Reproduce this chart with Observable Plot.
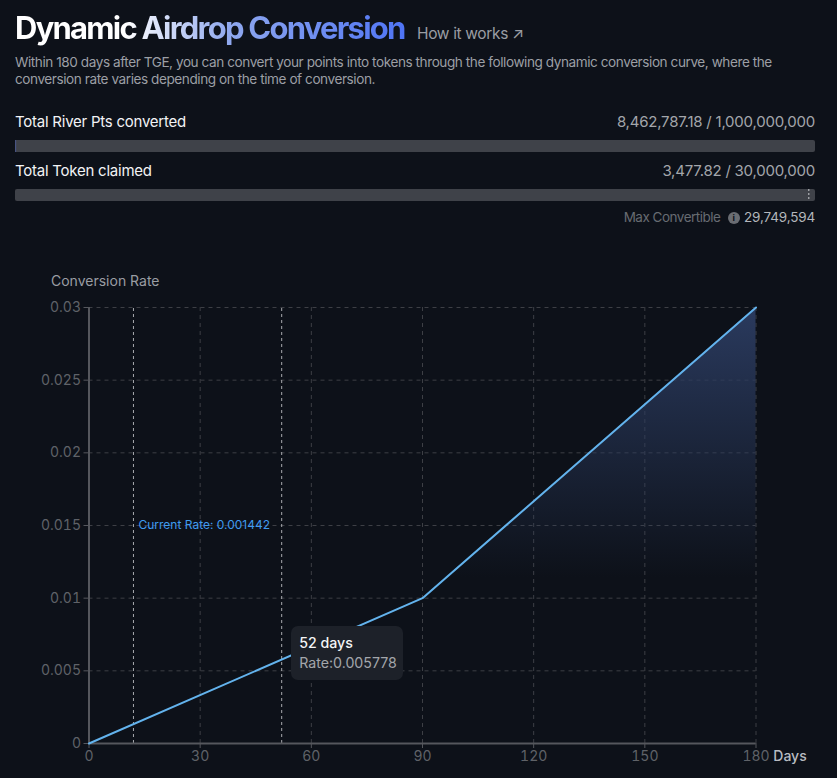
<!DOCTYPE html>
<html>
<head>
<meta charset="utf-8">
<script src="https://cdn.jsdelivr.net/npm/d3@7"></script>
<script src="https://cdn.jsdelivr.net/npm/@observablehq/plot@0.6"></script>
<style>
  html, body { margin: 0; background: #0d1119; }
  body { width: 837px; height: 778px; position: relative; overflow: hidden; font-family: Inter, sans-serif; }
  .abs { position: absolute; white-space: nowrap; }
  .right { right: 22px; }
  h1 { margin: 0; left: 15px; top: 8px; font-size: 31px; line-height: 40px; font-weight: 700; letter-spacing: -1.76px;
       background: linear-gradient(90deg, #fff 0%, #fff 28%, #8fa8ee 55%, #4f74f5 100%);
       -webkit-background-clip: text; background-clip: text; color: transparent; }
  .how { left: 417px; top: 24px; font-size: 15.5px; color: #9a9da3; letter-spacing: -.35px; }
  .desc { left: 15px; top: 54px; width: 790px; white-space: normal; font-size: 13.6px; line-height: 16.5px; color: #9c9fa5; letter-spacing: -.44px; }
  .lab { left: 15px; font-size: 15px; color: #f2f3f5; letter-spacing: -.24px; }
  .val { font-size: 15px; color: #a3a6ab; letter-spacing: -.22px; }
  .bar { left: 0; }
  .max { top: 209px; font-size: 13.5px; color: #676b72; letter-spacing: -.5px; }
  .max b { font-weight: 400; color: #b4b7bc; margin-left: 1px; letter-spacing: -.16px; }
  .info { display: inline-block; width: 12px; height: 12px; border-radius: 50%; background: #6a6d73; color: #0d1119;
          font-size: 9px; font-weight: 700; line-height: 12px; text-align: center; vertical-align: 1px; margin-left: 4px; letter-spacing: 0; }
  #chart { left: 0; top: 250px; }
  #tip { background: #1d2129; border-radius: 7px; padding: 7px 7px 6px 8px; width: 97px; height: 41px; font-size: 14.2px; line-height: 20px; }
  #tip .d { color: #f4f5f7; font-weight: 500; }
  #tip .r { color: #a3a6ab; }
</style>
</head>
<body>
<h1 class="abs">Dynamic Airdrop Conversion</h1>
<div class="abs how">How it works ↗</div>
<div class="abs desc">Within 180 days after TGE, you can convert your points into tokens through the following dynamic conversion curve, where the conversion rate varies depending on the time of conversion.</div>
<div class="abs lab" style="top:112px">Total River Pts converted</div>
<div class="abs val right" style="top:112px">8,462,787.18 / 1,000,000,000</div>
<div class="abs bar" id="bar1" style="top:140px"></div>
<div class="abs lab" style="top:161px">Total Token claimed</div>
<div class="abs val right" style="top:161px">3,477.82 / 30,000,000</div>
<div class="abs bar" id="bar2" style="top:189px"></div>
<div class="abs max right">Max Convertible <span class="info">i</span> <b>29,749,594</b></div>
<div class="abs" id="chart"></div>

<script>
// curve
const days = [0, 90, 180]
const rates = [0, 0.01, 0.03]
const xTicks = [0, 30, 60, 90, 120, 150, 180]
const yTicks = [0, 0.005, 0.01, 0.015, 0.02, 0.025, 0.03]

// markers
const currentDay = 12
const currentRate = 0.001442
const hoverDay = 52
const hoverRate = 0.005778

// totals
const pointsConverted = 8462787.18
const pointsTotal = 1000000000
const tokensClaimed = 3477.82
const tokensTotal = 30000000
const maxConvertible = 29749594

const curve = days.map((d, i) => ({day: d, rate: rates[i]}))

// the filled part fades out into the track right after its first pixel
function barDefs() {
  const d = d3.create("svg:defs")
  const g = d.append("linearGradient").attr("id", "barFill")
  g.append("stop").attr("offset", "0%").attr("stop-color", "#4a5a9a")
  g.append("stop").attr("offset", "25%").attr("stop-color", "#3f4249")
  return d.node()
}

function progress(value, total, marker) {
  return Plot.plot({
    width: 837, height: 12,
    marginLeft: 15, marginRight: 22, marginTop: 0, marginBottom: 0,
    style: {background: "transparent", display: "block"},
    x: {domain: [0, total], axis: null},
    marks: [
      barDefs,
      Plot.barX([total], {x1: 0, x2: d => d, fill: "#3f4249", rx: 2}),
      Plot.barX([value], {x1: 0, x2: d => d, fill: "url(#barFill)"}),
      marker ? Plot.ruleX([marker], {stroke: "#c9cbce", strokeDasharray: "2,2"}) : null
    ]
  })
}
document.getElementById("bar1").append(progress(pointsConverted, pointsTotal))
document.getElementById("bar2").append(progress(tokensClaimed, tokensTotal, maxConvertible))

// gradient below the curve
function defs() {
  const d = d3.create("svg:defs")
  const g = d.append("linearGradient").attr("id", "rateFill").attr("x1", 0).attr("x2", 0).attr("y1", 0).attr("y2", 1)
  g.append("stop").attr("offset", "0%").attr("stop-color", "#2a3a5e")
  g.append("stop").attr("offset", "62%").attr("stop-color", "#2a3a5e").attr("stop-opacity", 0)
  return d.node()
}

const grid = {stroke: "#3d3f45", strokeDasharray: "4,4", strokeOpacity: 1}

const chart = Plot.plot({
  width: 837,
  height: 528,
  marginLeft: 88.5,
  marginRight: 81.5,
  marginTop: 57,
  marginBottom: 35,
  style: {background: "transparent", fontFamily: "Inter, sans-serif", fontSize: "14px", display: "block"},
  x: {domain: [0, 180]},
  y: {domain: [0, 0.03]},
  marks: [
    defs,
    Plot.ruleX(xTicks, {...grid, y1: 0, y2: 0.03}),
    Plot.ruleY(yTicks, {...grid, x1: 0, x2: 180}),
    Plot.areaY(curve, {x: "day", y: "rate", fill: "url(#rateFill)"}),
    Plot.ruleX([currentDay, hoverDay], {y1: 0, y2: 0.03, stroke: "#a9abaf", strokeDasharray: "3,3"}),
    Plot.ruleX([0], {stroke: "#55575d", strokeWidth: 2}),
    Plot.ruleY([0], {stroke: "#55575d", strokeWidth: 2}),
    Plot.axisX({ticks: xTicks, tickSize: 5, tickPadding: 3, label: null, stroke: "#55575d", fill: "#5f6268", tickFormat: d => String(d)}),
    Plot.axisY({ticks: yTicks, tickSize: 5, tickPadding: 3, label: null, stroke: "#55575d", fill: "#5f6268", tickFormat: d => String(d)}),
    Plot.line(curve, {x: "day", y: "rate", stroke: "#63b3ed", strokeWidth: 2}),
    Plot.text([`Current Rate: ${currentRate}`], {x: currentDay, y: 0.015, dx: 5, textAnchor: "start", fill: "#3f9bf0", fontSize: 12}),
    Plot.text(["Conversion Rate"], {x: 0, y: 0.03, dx: -38, dy: -26, textAnchor: "start", fill: "#9a9da3", fontSize: 14}),
    Plot.text(["Days"], {x: 180, y: 0, dx: 34, dy: 13, fill: "#b9bcc2", fontSize: 14, fontWeight: 500})
  ]
})
document.getElementById("chart").append(chart)

// hover box, placed from the chart's scales
const tip = document.createElement("div")
tip.id = "tip"
tip.className = "abs"
tip.innerHTML = `<div class="d">${hoverDay} days</div><div class="r">Rate:${hoverRate}</div>`
tip.style.left = chart.scale("x").apply(hoverDay) + 10 + "px"
tip.style.top = chart.scale("y").apply(hoverRate) - 33 + "px"
document.getElementById("chart").append(tip)
</script>
</body>
</html>
